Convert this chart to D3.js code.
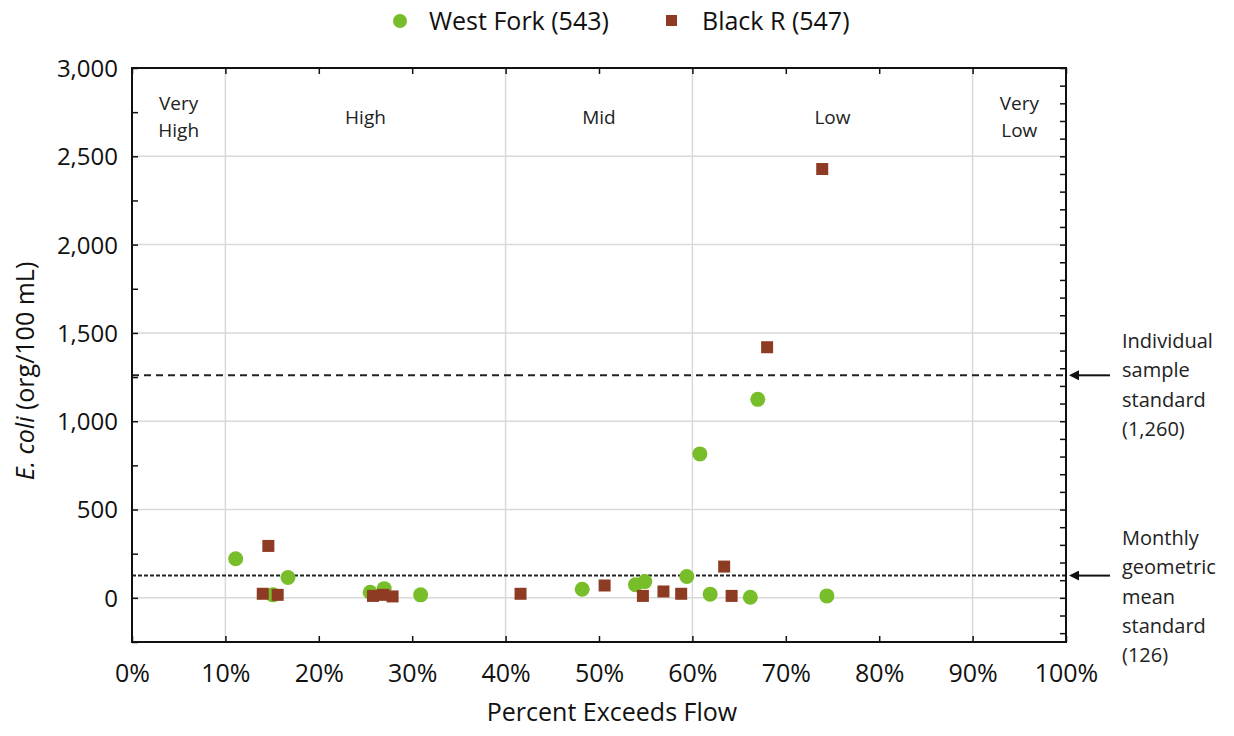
<!DOCTYPE html>
<head>
    <style>
        body { margin: 0; background: #fff; }
        svg { font-family: "Open Sans", sans-serif; }
    </style>
</head>
<body>
    <script src="https://d3js.org/d3.v7.min.js"></script>
    <script>
        const w = 1234, h = 736;
        const margin = {top: 68, right: 168, bottom: 94, left: 132};

        // West Fork (543)
        const westX = [11.1, 15.1, 16.7, 25.5, 27.0, 30.9, 48.2, 53.9, 54.9, 59.4, 60.8, 61.9, 66.2, 67.0, 74.4];
        const westY = [221, 17, 115, 32, 52, 17, 49, 74, 92, 121, 815, 21, 3, 1124, 11];
        // Black R (547)
        const blackX = [14.0, 14.6, 15.6, 25.8, 26.9, 27.9, 41.6, 50.6, 54.7, 56.9, 58.8, 63.4, 64.2, 68.0, 73.9];
        const blackY = [23, 294, 17, 11, 17, 8, 23, 70, 11, 36, 23, 177, 11, 1419, 2428];

        const xTicks = d3.range(0, 101, 10);
        const yTicks = [0, 500, 1000, 1500, 2000, 2500, 3000];
        const zoneEdges = [10, 40, 60, 90];
        const zoneNames = [['Very', 'High'], ['High'], ['Mid'], ['Low'], ['Very', 'Low']];
        const stdValues = [1260, 126];
        const stdLabels = [
            ['Individual', 'sample', 'standard', '(1,260)'],
            ['Monthly', 'geometric', 'mean', 'standard', '(126)']
        ];

        const green = '#78be2a', brown = '#8e3b24';

        const svg = d3.select('body').append('svg')
            .attr('width', w).attr('height', h);

        const x = d3.scaleLinear().domain([0, 100])
            .range([margin.left, w - margin.right]);
        const y = d3.scaleLinear().domain([-250, 3000])
            .range([h - margin.bottom, margin.top]);

        const x0 = x(0), x1 = x(100), y0 = y(-250), y1 = y(3000);

        // grid
        svg.append('g').selectAll('line').data(yTicks.slice(0, -1)).join('line')
            .attr('x1', x0).attr('x2', x1)
            .attr('y1', d => y(d)).attr('y2', d => y(d))
            .attr('stroke', '#d9d9d9').attr('stroke-width', 1.5);
        svg.append('g').selectAll('line').data(zoneEdges).join('line')
            .attr('x1', d => x(d)).attr('x2', d => x(d))
            .attr('y1', y0).attr('y2', y1)
            .attr('stroke', '#d9d9d9').attr('stroke-width', 1.5);

        // zone labels, centred in each flow zone
        const edges = [0, ...zoneEdges, 100];
        const zl = svg.append('g').attr('font-size', 19).attr('fill', '#222')
            .attr('text-anchor', 'middle');
        zoneNames.forEach((name, k) => {
            const cx = x((edges[k] + edges[k + 1]) / 2);
            const top = name.length > 1 ? 103 : 117;
            name.forEach((t, i) => {
                zl.append('text').attr('x', cx).attr('y', top + i * 27)
                    .attr('dy', '0.35em').text(t);
            });
        });

        // standard lines
        svg.append('g').selectAll('line').data(stdValues).join('line')
            .attr('x1', x0).attr('x2', x1)
            .attr('y1', d => y(d)).attr('y2', d => y(d))
            .attr('stroke', '#222').attr('stroke-width', 2)
            .attr('stroke-dasharray', (d, i) => i === 0 ? '7,5' : '4,2');

        // axes: ticks point into the frame
        const axB = svg.append('g').attr('transform', `translate(0,${y0})`)
            .call(d3.axisBottom(x).tickValues(xTicks).tickSize(-6).tickFormat(d => d + '%').tickPadding(22));
        const axT = svg.append('g').attr('transform', `translate(0,${y1})`)
            .call(d3.axisTop(x).tickValues(xTicks).tickSize(-6).tickFormat(''));
        const axL = svg.append('g').attr('transform', `translate(${x0},0)`)
            .call(d3.axisLeft(y).tickValues(d3.range(-250, 3001, 250)).tickSize(-6)
                .tickFormat(d => yTicks.includes(d) ? d3.format(',')(d) : '').tickPadding(14));
        const axR = svg.append('g').attr('transform', `translate(${x1},0)`)
            .call(d3.axisRight(y).tickValues(d3.range(-200, 3001, 100)).tickSize(-6).tickFormat(''));

        [axB, axT, axL, axR].forEach(a => {
            a.select('.domain').remove();
            a.selectAll('line').attr('stroke', '#111').attr('stroke-width', 1.5);
            a.selectAll('text').attr('fill', '#111')
                .attr('font-family', '"Open Sans", sans-serif');
        });
        axL.selectAll('text').attr('font-size', 24).attr('dy', '0.35em');
        axB.selectAll('text').attr('font-size', 25);

        // frame
        svg.append('rect')
            .attr('x', x0).attr('y', y1)
            .attr('width', x1 - x0).attr('height', y0 - y1)
            .attr('fill', 'none').attr('stroke', '#111').attr('stroke-width', 2);

        // points
        svg.append('g').selectAll('circle').data(d3.zip(westX, westY)).join('circle')
            .attr('cx', d => x(d[0])).attr('cy', d => y(d[1]))
            .attr('r', 7.5).attr('fill', green);
        svg.append('g').selectAll('rect').data(d3.zip(blackX, blackY)).join('rect')
            .attr('x', d => x(d[0]) - 6).attr('y', d => y(d[1]) - 6)
            .attr('width', 12).attr('height', 12).attr('fill', brown);

        // annotations on the right
        svg.append('defs').append('marker')
            .attr('id', 'arr').attr('viewBox', '0 0 10 10')
            .attr('refX', 1).attr('refY', 5)
            .attr('markerWidth', 5).attr('markerHeight', 5)
            .attr('orient', 'auto-start-reverse')
            .append('path').attr('d', 'M0,0 L10,5 L0,10 Z').attr('fill', '#111');

        stdValues.forEach((v, k) => {
            const yy = y(v);
            svg.append('line')
                .attr('x1', 1110).attr('x2', 1078)
                .attr('y1', yy).attr('y2', yy)
                .attr('stroke', '#111').attr('stroke-width', 2)
                .attr('marker-end', 'url(#arr)');
            const startY = k === 0 ? 341 : 538;
            stdLabels[k].forEach((t, i) => {
                svg.append('text').attr('x', 1122).attr('y', startY + i * 29.3)
                    .attr('dy', '0.35em').attr('font-size', 20).attr('fill', '#222')
                    .text(t);
            });
        });

        // legend
        const lg = svg.append('g').attr('font-size', 25).attr('fill', '#111');
        lg.append('circle').attr('cx', 400).attr('cy', 21).attr('r', 7).attr('fill', green);
        lg.append('text').attr('x', 429).attr('y', 21).attr('dy', '0.35em').text('West Fork (543)');
        lg.append('rect').attr('x', 666).attr('y', 15).attr('width', 11).attr('height', 11).attr('fill', brown);
        lg.append('text').attr('x', 702).attr('y', 21).attr('dy', '0.35em').text('Black R (547)');

        // axis titles
        svg.append('text').attr('x', 612).attr('y', 721)
            .attr('text-anchor', 'middle').attr('font-size', 25).attr('fill', '#111')
            .text('Percent Exceeds Flow');
        const yt = svg.append('text')
            .attr('transform', `translate(25,${(y0 + y1) / 2 + 16}) rotate(-90)`)
            .attr('text-anchor', 'middle').attr('dy', '0.35em')
            .attr('font-size', 25).attr('fill', '#111');
        yt.append('tspan').attr('font-style', 'italic').text('E. coli');
        yt.append('tspan').text(' (org/100 mL)');
    </script>
</body>
